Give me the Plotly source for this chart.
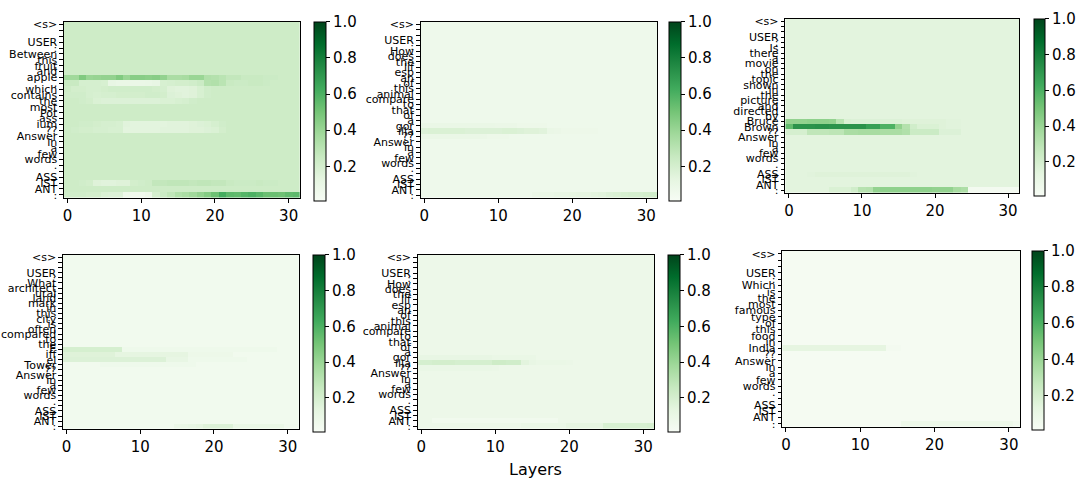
import plotly.graph_objects as go

W, H = 1078, 482
LAYERS = list(range(32))
X_TICKS = [0, 10, 20, 30]
CB_TICKS = [0.2, 0.4, 0.6, 0.8, 1.0]
CB_TEXT = ["0.2", "0.4", "0.6", "0.8", "1.0"]

GREENS = [[0.0, '#f7fcf5'], [0.125, '#e5f5e0'], [0.25, '#c7e9c0'], [0.375, '#a1d99b'],
          [0.5, '#74c476'], [0.625, '#41ab5d'], [0.75, '#238b45'], [0.875, '#006d2c'],
          [1.0, '#00441b']]

# ---------------- Panel 1 ----------------
P1_TOKENS = ["<s>", "", "", "USER", ":", "Between", "this", "fruit", "and", "apple", ",",
             "which", "contains", "the", "most", "Pot", "ass", "ium", "??", "Answer", "in",
             "a", "few", "words", ".", "", "ASS", "IST", "ANT", ":"]
P1_BG = 0.23
P1_ROWS = {
    9: [0.38, 0.38, 0.47, 0.40, 0.41, 0.42, 0.42, 0.47, 0.40, 0.45, 0.45, 0.44, 0.45, 0.42, 0.35, 0.35,
        0.36, 0.40, 0.40, 0.33, 0.32, 0.30, 0.27, 0.27, 0.25, 0.25, 0.25, 0.24, 0.24, 0.23, 0.23, 0.23],
    10: [0.25, 0.25, 0.20, 0.20, 0.20, 0.19, 0.11, 0.10, 0.10, 0.09, 0.09, 0.10, 0.11, 0.19, 0.20, 0.21,
         0.21, 0.22, 0.24, 0.32, 0.33, 0.30, 0.25, 0.24, 0.24, 0.25, 0.25, 0.24, 0.23, 0.23, 0.23, 0.23],
    11: [0.23, 0.21, 0.21, 0.20, 0.20, 0.21, 0.22, 0.22, 0.22, 0.22, 0.22, 0.22, 0.21, 0.20, 0.16, 0.15,
         0.15, 0.16, 0.19, 0.22, 0.23, 0.23, 0.23, 0.23, 0.23, 0.23, 0.23, 0.23, 0.23, 0.23, 0.23, 0.23],
    12: [0.22, 0.22, 0.22, 0.20, 0.19, 0.20, 0.20, 0.21, 0.21, 0.21, 0.21, 0.22, 0.22, 0.21, 0.17, 0.16,
         0.15, 0.16, 0.19, 0.22, 0.23, 0.23, 0.23, 0.23, 0.23, 0.23, 0.23, 0.23, 0.23, 0.23, 0.23, 0.23],
    13: [0.23, 0.23, 0.22, 0.21, 0.18, 0.17, 0.17, 0.17, 0.17, 0.17, 0.17, 0.17, 0.17, 0.18, 0.18, 0.19,
         0.20, 0.22, 0.23, 0.23, 0.23, 0.23, 0.23, 0.23, 0.23, 0.23, 0.23, 0.23, 0.23, 0.23, 0.23, 0.23],
    17: [0.23, 0.23, 0.22, 0.22, 0.21, 0.20, 0.20, 0.19, 0.15, 0.14, 0.14, 0.14, 0.14, 0.14, 0.15, 0.15,
         0.15, 0.16, 0.17, 0.18, 0.20, 0.22, 0.23, 0.23, 0.23, 0.23, 0.23, 0.23, 0.23, 0.23, 0.23, 0.23],
    18: [0.23, 0.22, 0.21, 0.21, 0.20, 0.20, 0.19, 0.19, 0.14, 0.14, 0.14, 0.14, 0.14, 0.15, 0.15, 0.15,
         0.15, 0.16, 0.16, 0.17, 0.18, 0.21, 0.23, 0.23, 0.23, 0.23, 0.23, 0.23, 0.23, 0.23, 0.23, 0.23],
    27: [0.23, 0.23, 0.22, 0.21, 0.16, 0.15, 0.15, 0.16, 0.16, 0.21, 0.22, 0.23, 0.27, 0.27, 0.28, 0.28,
         0.28, 0.27, 0.28, 0.28, 0.27, 0.27, 0.25, 0.24, 0.24, 0.24, 0.25, 0.24, 0.24, 0.23, 0.23, 0.23],
    29: [0.22, 0.22, 0.22, 0.21, 0.21, 0.18, 0.17, 0.17, 0.08, 0.06, 0.06, 0.08, 0.20, 0.24, 0.28, 0.33,
         0.35, 0.38, 0.42, 0.46, 0.52, 0.62, 0.56, 0.55, 0.58, 0.60, 0.57, 0.53, 0.53, 0.52, 0.55, 0.56],
}

# ---------------- Panel 2 ----------------
P2_TOKENS = ["<s>", "", "", "USER", ":", "How", "does", "the", "lif", "esp", "an", "of", "this",
             "animal", "compare", "to", "that", "of", "a", "gor", "illa", "??", "Answer", "in",
             "a", "few", "words", ".", "", "ASS", "IST", "ANT", ":"]
P2_BG = 0.07
P2_ROWS = {
    19: [0.10, 0.10, 0.10, 0.10, 0.10, 0.10, 0.10, 0.10, 0.10, 0.10, 0.09, 0.09, 0.09, 0.08, 0.08, 0.08,
         0.08, 0.07, 0.07, 0.07, 0.07, 0.07, 0.07, 0.07, 0.07, 0.07, 0.07, 0.07, 0.07, 0.07, 0.07, 0.07],
    20: [0.17, 0.18, 0.18, 0.18, 0.18, 0.18, 0.17, 0.17, 0.17, 0.17, 0.17, 0.18, 0.18, 0.17, 0.16, 0.16,
         0.15, 0.10, 0.09, 0.08, 0.08, 0.08, 0.08, 0.08, 0.07, 0.07, 0.07, 0.07, 0.07, 0.07, 0.07, 0.07],
    21: [0.10, 0.10, 0.10, 0.10, 0.10, 0.10, 0.10, 0.10, 0.09, 0.08, 0.08, 0.08, 0.07, 0.07, 0.07, 0.07,
         0.07, 0.07, 0.07, 0.07, 0.07, 0.07, 0.07, 0.07, 0.07, 0.07, 0.07, 0.07, 0.07, 0.07, 0.07, 0.07],
    32: [0.07, 0.07, 0.07, 0.07, 0.07, 0.07, 0.07, 0.07, 0.07, 0.07, 0.07, 0.07, 0.07, 0.07, 0.07, 0.09,
         0.10, 0.10, 0.11, 0.11, 0.12, 0.13, 0.13, 0.14, 0.15, 0.17, 0.18, 0.19, 0.20, 0.20, 0.21, 0.22],
}

# ---------------- Panel 3 ----------------
P3_TOKENS = ["<s>", "", "", "USER", ":", "Is", "there", "a", "movie", "on", "the", "topic", "shown",
             "in", "the", "picture", "and", "directed", "by", "Bruce", "Brown", "??", "Answer",
             "in", "a", "few", "words", ".", "", "ASS", "IST", "ANT", ":"]
P3_BG = 0.14
P3_ROWS = {
    19: [0.42, 0.42, 0.42, 0.43, 0.43, 0.43, 0.42, 0.30, 0.18, 0.17, 0.17, 0.17, 0.17, 0.17, 0.17, 0.17,
         0.16, 0.16, 0.16, 0.16, 0.16, 0.16, 0.15, 0.15, 0.14, 0.14, 0.14, 0.14, 0.14, 0.14, 0.14, 0.14],
    20: [0.55, 0.72, 0.72, 0.72, 0.73, 0.73, 0.72, 0.72, 0.72, 0.72, 0.72, 0.67, 0.67, 0.60, 0.60, 0.42,
         0.32, 0.22, 0.18, 0.18, 0.18, 0.16, 0.15, 0.15, 0.14, 0.14, 0.14, 0.14, 0.14, 0.14, 0.14, 0.14],
    21: [0.20, 0.20, 0.20, 0.28, 0.28, 0.28, 0.29, 0.29, 0.35, 0.35, 0.36, 0.36, 0.36, 0.35, 0.35, 0.35,
         0.33, 0.24, 0.24, 0.24, 0.24, 0.17, 0.17, 0.17, 0.14, 0.14, 0.14, 0.14, 0.14, 0.14, 0.14, 0.14],
    29: [0.14, 0.14, 0.14, 0.15, 0.16, 0.16, 0.16, 0.16, 0.16, 0.16, 0.16, 0.16, 0.16, 0.16, 0.16, 0.16,
         0.16, 0.15, 0.14, 0.14, 0.14, 0.14, 0.14, 0.14, 0.14, 0.14, 0.14, 0.14, 0.14, 0.14, 0.14, 0.14],
    32: [0.14, 0.14, 0.14, 0.14, 0.14, 0.14, 0.18, 0.18, 0.18, 0.22, 0.31, 0.32, 0.42, 0.43, 0.43, 0.43,
         0.43, 0.43, 0.43, 0.43, 0.42, 0.42, 0.42, 0.36, 0.34, 0.04, 0.04, 0.04, 0.04, 0.04, 0.04, 0.04],
}

# ---------------- Panel 4 ----------------
P4_TOKENS = ["<s>", "", "", "USER", ":", "What", "architect", "ural", "land", "mark", "in", "this",
             "city", "is", "often", "compared", "to", "the", "E", "iff", "el", "Tower", "??",
             "Answer", "in", "a", "few", "words", ".", "", "ASS", "IST", "ANT", ":"]
P4_BG = 0.05
P4_ROWS = {
    18: [0.20, 0.20, 0.20, 0.20, 0.20, 0.20, 0.20, 0.20, 0.07, 0.07, 0.07, 0.07, 0.07, 0.07, 0.07, 0.07,
         0.07, 0.07, 0.07, 0.07, 0.07, 0.07, 0.07, 0.07, 0.07, 0.07, 0.07, 0.07, 0.07, 0.05, 0.05, 0.05],
    19: [0.16, 0.16, 0.16, 0.16, 0.16, 0.16, 0.16, 0.13, 0.13, 0.13, 0.13, 0.13, 0.13, 0.13, 0.13, 0.13,
         0.13, 0.08, 0.08, 0.08, 0.08, 0.08, 0.08, 0.05, 0.05, 0.05, 0.05, 0.05, 0.05, 0.05, 0.05, 0.05],
    20: [0.17, 0.17, 0.17, 0.17, 0.17, 0.17, 0.17, 0.17, 0.17, 0.17, 0.17, 0.17, 0.17, 0.17, 0.11, 0.11,
         0.11, 0.07, 0.07, 0.07, 0.07, 0.07, 0.07, 0.07, 0.07, 0.05, 0.05, 0.05, 0.05, 0.05, 0.05, 0.05],
    21: [0.05, 0.05, 0.05, 0.05, 0.05, 0.07, 0.07, 0.07, 0.07, 0.07, 0.07, 0.07, 0.07, 0.07, 0.07, 0.07,
         0.07, 0.07, 0.05, 0.05, 0.05, 0.05, 0.05, 0.05, 0.05, 0.05, 0.05, 0.05, 0.05, 0.05, 0.05, 0.05],
    33: [0.05, 0.05, 0.05, 0.05, 0.05, 0.05, 0.05, 0.05, 0.05, 0.05, 0.05, 0.05, 0.05, 0.05, 0.05, 0.09,
         0.10, 0.11, 0.13, 0.16, 0.17, 0.17, 0.17, 0.10, 0.10, 0.10, 0.10, 0.10, 0.10, 0.10, 0.06, 0.06],
}

# ---------------- Panel 5 ----------------
P5_TOKENS = ["<s>", "", "", "USER", ":", "How", "does", "the", "lif", "esp", "an", "of", "this",
             "animal", "compare", "to", "that", "of", "a", "gor", "illa", "??", "Answer", "in",
             "a", "few", "words", ".", "", "ASS", "IST", "ANT", ":"]
P5_BG = 0.08
P5_ROWS = {
    19: [0.11, 0.11, 0.11, 0.11, 0.11, 0.11, 0.11, 0.11, 0.11, 0.11, 0.10, 0.10, 0.10, 0.10, 0.10, 0.10,
         0.08, 0.08, 0.08, 0.08, 0.08, 0.08, 0.08, 0.08, 0.08, 0.08, 0.08, 0.08, 0.08, 0.08, 0.08, 0.08],
    20: [0.20, 0.20, 0.21, 0.21, 0.21, 0.20, 0.20, 0.20, 0.20, 0.20, 0.23, 0.23, 0.22, 0.22, 0.14, 0.11,
         0.10, 0.10, 0.10, 0.10, 0.09, 0.08, 0.08, 0.08, 0.08, 0.08, 0.08, 0.08, 0.08, 0.08, 0.08, 0.08],
    21: [0.10, 0.10, 0.10, 0.10, 0.10, 0.10, 0.10, 0.10, 0.10, 0.10, 0.09, 0.08, 0.08, 0.08, 0.08, 0.08,
         0.08, 0.08, 0.08, 0.08, 0.08, 0.08, 0.08, 0.08, 0.08, 0.08, 0.08, 0.08, 0.08, 0.08, 0.08, 0.08],
    31: [0.08, 0.08, 0.05, 0.05, 0.05, 0.05, 0.05, 0.05, 0.05, 0.05, 0.05, 0.05, 0.05, 0.05, 0.05, 0.05,
         0.05, 0.05, 0.05, 0.08, 0.08, 0.08, 0.08, 0.08, 0.08, 0.08, 0.08, 0.08, 0.08, 0.08, 0.08, 0.08],
    32: [0.08, 0.08, 0.08, 0.08, 0.08, 0.08, 0.08, 0.08, 0.08, 0.08, 0.08, 0.08, 0.08, 0.08, 0.10, 0.10,
         0.10, 0.10, 0.10, 0.10, 0.13, 0.13, 0.13, 0.13, 0.13, 0.19, 0.19, 0.19, 0.19, 0.19, 0.19, 0.20],
}

# ---------------- Panel 6 ----------------
P6_TOKENS = ["<s>", "", "", "USER", ":", "Which", "is", "the", "most", "famous", "type", "of",
             "this", "food", "in", "India", "??", "Answer", "in", "a", "few", "words", ".", "",
             "ASS", "IST", "ANT", ":"]
P6_BG = 0.025
P6_ROWS = {
    15: [0.13, 0.13, 0.13, 0.13, 0.13, 0.13, 0.13, 0.13, 0.13, 0.13, 0.13, 0.13, 0.13, 0.13, 0.04, 0.04,
         0.025, 0.025, 0.025, 0.025, 0.025, 0.025, 0.025, 0.025, 0.025, 0.025, 0.025, 0.025, 0.025, 0.025, 0.025, 0.025],
    27: [0.025, 0.025, 0.025, 0.025, 0.025, 0.025, 0.025, 0.025, 0.025, 0.025, 0.025, 0.025, 0.025, 0.025, 0.025, 0.025,
         0.08, 0.08, 0.08, 0.08, 0.08, 0.08, 0.08, 0.08, 0.08, 0.08, 0.08, 0.08, 0.08, 0.08, 0.08, 0.05],
}

# layout boxes in pixels: (left, top, right, bottom) and colorbar (left, right)
PANELS = [
    dict(tokens=P1_TOKENS, bg=P1_BG, rows=P1_ROWS, box=(63, 18, 299, 197), cb=(313, 325)),
    dict(tokens=P2_TOKENS, bg=P2_BG, rows=P2_ROWS, box=(420, 18, 657, 197), cb=(669, 681)),
    dict(tokens=P3_TOKENS, bg=P3_BG, rows=P3_ROWS, box=(785, 15, 1019, 192), cb=(1034, 1045)),
    dict(tokens=P4_TOKENS, bg=P4_BG, rows=P4_ROWS, box=(62, 255, 298, 432), cb=(312, 324)),
    dict(tokens=P5_TOKENS, bg=P5_BG, rows=P5_ROWS, box=(417, 255, 654, 432), cb=(668, 680)),
    dict(tokens=P6_TOKENS, bg=P6_BG, rows=P6_ROWS, box=(782, 251, 1020, 430), cb=(1032, 1044)),
]


def esc(s):
    return s.replace("&", "&amp;").replace("<", "&lt;").replace(">", "&gt;")


FONT = "DejaVu Sans"
fig = go.Figure()
layout = {}
for i, p in enumerate(PANELS, start=1):
    tokens = p["tokens"]
    n = len(tokens)
    z = []
    for r in range(n):
        if r in p["rows"]:
            row = list(p["rows"][r])
            assert len(row) == 32
        else:
            row = [p["bg"] for _ in LAYERS]
        z.append(row)
    sfx = "" if i == 1 else str(i)
    fig.add_trace(go.Heatmap(z=z, x=LAYERS, y=list(range(n)), coloraxis="coloraxis" + sfx,
                             xaxis="x" + sfx, yaxis="y" + sfx, zsmooth=False, hoverinfo="skip"))
    l, t, r_, b = p["box"]
    layout["xaxis" + sfx] = dict(domain=[l / W, r_ / W], anchor="y" + sfx, range=[-0.5, 31.5],
                                 tickmode="array", tickvals=X_TICKS, ticks="outside", ticklen=4,
                                 tickcolor="black", showline=True, mirror=True, linecolor="black",
                                 linewidth=1, showgrid=False, zeroline=False,
                                 tickfont=dict(size=15, color="black", family=FONT))
    layout["yaxis" + sfx] = dict(domain=[1 - b / H, 1 - t / H], anchor="x" + sfx,
                                 range=[n - 0.5, -0.5], tickmode="array", tickvals=list(range(n)),
                                 ticktext=[esc(s) for s in tokens], ticks="outside", ticklen=3.5,
                                 tickcolor="black", showline=True, mirror=True, linecolor="black",
                                 linewidth=1, showgrid=False, zeroline=False,
                                 tickfont=dict(size=11, color="black", family=FONT))
    cl, cr = p["cb"]
    layout["coloraxis" + sfx] = dict(
        colorscale=GREENS, cmin=0.01, cmax=1.0,
        colorbar=dict(x=cl / W, xanchor="left", xpad=0, ypad=0, y=1 - t / H, yanchor="top",
                      len=b - t, lenmode="pixels", thickness=cr - cl, thicknessmode="pixels",
                      outlinewidth=1, outlinecolor="black", ticks="outside", ticklen=4,
                      tickcolor="black", tickvals=CB_TICKS, ticktext=CB_TEXT,
                      tickfont=dict(size=15, color="black", family=FONT)))

fig.update_layout(**layout)
fig.update_layout(width=W, height=H, margin=dict(l=0, r=0, t=0, b=0),
                  paper_bgcolor="white", plot_bgcolor="white", showlegend=False,
                  font=dict(family=FONT, color="black"))
fig.add_annotation(text="Layers", x=535 / W, y=1 - 473 / H, xref="paper", yref="paper",
                   showarrow=False, xanchor="center", yanchor="middle",
                   font=dict(size=16, color="black", family=FONT))
fig.write_html("out.html", config={"displayModeBar": False},
               post_script="document.body.style.margin='0px';")
